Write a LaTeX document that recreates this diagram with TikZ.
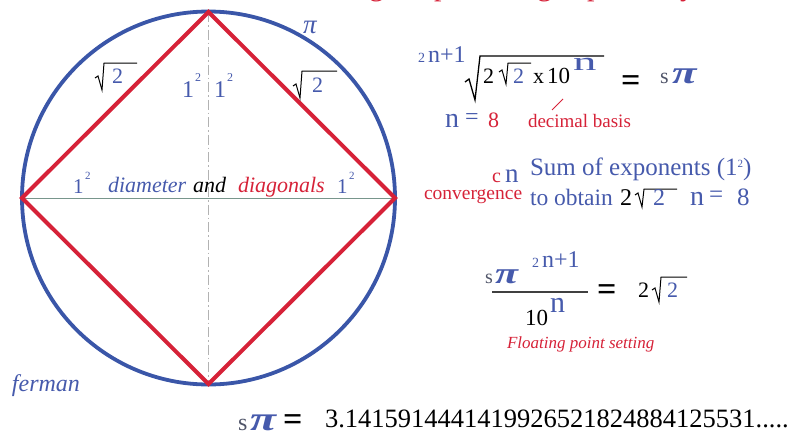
\documentclass[tikz,border=0pt]{standalone}
\usepackage{fontspec}
\setmainfont{Liberation Serif}
\usepackage{graphicx}
\definecolor{cblue}{RGB}{58,86,168}
\definecolor{tblue}{RGB}{70,90,172}
\definecolor{cred}{RGB}{214,34,56}
\definecolor{sgray}{RGB}{80,85,105}
\definecolor{dline}{RGB}{120,150,140}
\newcommand{\myfs}[1]{\fontsize{#1}{#1}\selectfont}
\newcommand{\myrad}[4]{\draw[rad] (#1,#2-12) -- (#1+3,#2-14) -- (#1+7,#2) -- (#1+9,#3) -- (#4,#3);}
\tikzset{
  txt/.style={inner sep=0pt, outer sep=0pt, anchor=base west},
  rad/.style={line width=1pt, draw=black, line join=miter},
  circ/.style={draw=cblue, line width=3.8pt},
  sq/.style={draw=cred, line width=4pt, line join=miter},
  diam/.style={draw=dline, line width=0.9pt},
  axis/.style={draw=black!30, line width=0.8pt, dash pattern=on 10pt off 3pt on 1.5pt off 3pt},
  blu/.style={txt, text=tblue},
  rd/.style={txt, text=cred},
  blk/.style={txt, text=black},
}
\begin{document}
\begin{tikzpicture}[x=1pt,y=-1pt]
\useasboundingbox (0,0) rectangle (794,434);
\clip (0,0) rectangle (794,434);
% cut-off title fragments
\node[rd,font=\myfs{30}] (tg1) at (369,-5) {g};
\node[rd,font=\myfs{30}] (tp1) at (434,-5) {p};
\node[rd,font=\myfs{30}] (tg2) at (537,-5) {g};
\node[rd,font=\myfs{30}] (tp2) at (587,-5) {p};
\node[rd,font=\myfs{30}] (ty1) at (680,-5) {y};
% geometry
\coordinate (O) at (208.5,198);
\coordinate (T) at (208.5,12);
\coordinate (B) at (208.5,384);
\coordinate (L) at (22,198);
\coordinate (R) at (395,198);
\draw[axis] (T) -- (B);
\draw[diam] (L) -- (R);
\draw[circ] (O) circle[radius=186.5pt];
\draw[sq] (T) -- (R) -- (B) -- (L) -- cycle;
% circle labels
\node[blu,font=\itshape\myfs{27}] (picirc) at (303,33) {π};
\myrad{95}{90}{63}{137}
\node[blu,font=\myfs{22}] (sqL) at (112,83) {2};
\myrad{293}{98}{71}{337}
\node[blu,font=\myfs{22}] (sqR) at (312,92) {2};
\node[blu,font=\myfs{24}] (oneA) at (182,97) {1};
\node[blu,font=\myfs{12}] (supA) at (195,81) {2};
\node[blu,font=\myfs{24}] (oneB) at (214,97) {1};
\node[blu,font=\myfs{12}] (supB) at (227,81) {2};
\node[blu,font=\myfs{21}] (oneC) at (73,193) {1};
\node[blu,font=\myfs{11}] (supC) at (85,179) {2};
\node[blu,font=\itshape\myfs{22}] (diamt) at (108,192) {diameter};
\node[blk,font=\itshape\myfs{22}] (andt) at (193,192) {and};
\node[rd,font=\itshape\myfs{22}] (diagt) at (238,192) {diagonals};
\node[blu,font=\myfs{21}] (oneD) at (337,193) {1};
\node[blu,font=\myfs{11}] (supD) at (349,179) {2};
\node[blu,font=\itshape\myfs{24}] (ferman) at (12,391) {ferman};
% formula 1
\node[blu,font=\myfs{14}] (f1a) at (418,62) {2};
\node[blu,font=\myfs{24}] (f1b) at (428,62) {n+1};
\draw[rad,line width=1.3pt] (465,82) -- (469,79) -- (475,100) -- (480,56) -- (604,56);
\node[blk,font=\myfs{22}] (f1c) at (483,83) {2};
\myrad{499}{84}{63}{531}
\node[blu,font=\myfs{22}] (f1d) at (513,83) {2};
\node[blk,font=\myfs{22}] (f1e) at (533,83) {x};
\node[blk,font=\myfs{23}] (f1f) at (547,83) {10};
\node[blu,font=\myfs{26}] (f1g) at (573,70) {\scalebox{1.8}[1]{n}};
\node[blk,font=\bfseries\myfs{34}] (f1eq) at (621,91.5) {=};
\node[txt,text=sgray,font=\myfs{22}] (f1s) at (660,83) {s};
\node[blu,font=\bfseries\itshape\myfs{32}] (f1pi) at (672,83) {\scalebox{1.4}[1]{π}};
\node[blu,font=\myfs{28}] (n8n) at (445,127) {n};
\node[blu,font=\myfs{24}] (n8eq) at (465,124.5) {=};
\node[rd,font=\myfs{22}] (n8v) at (488,127) {8};
\coordinate (ptA) at (563,99);
\coordinate (ptB) at (552,110);
\draw[cred,line width=0.8pt] (ptA) -- (ptB);
\node[rd,font=\myfs{19}] (decb) at (528,127) {decimal basis};
% sum of exponents
\node[rd,font=\myfs{20}] (cc) at (492,182) {c};
\node[blu,font=\myfs{27}] (cn) at (505,182) {n};
\node[rd,font=\myfs{19.5}] (conv) at (424,199) {convergence};
\node[blu,font=\myfs{25}] (sumx) at (530,175) {Sum of exponents (1\raisebox{8pt}{\myfs{11}2})};
\node[blu,font=\myfs{23.5}] (tobt) at (530,205) {to obtain};
\node[blk,font=\myfs{24}] (tob2) at (620,205) {2};
\myrad{635}{207}{189}{677}
\node[blu,font=\myfs{24}] (tob3) at (653,205) {2};
\node[blu,font=\myfs{28}] (tobn) at (690,205) {n};
\node[blu,font=\myfs{25}] (tobeq) at (709,202) {=};
\node[blu,font=\myfs{25}] (tob8) at (737,205) {8};
% fraction
\node[txt,text=sgray,font=\myfs{20}] (frs) at (485,283) {s};
\node[blu,font=\bfseries\itshape\myfs{30}] (frpi) at (495,283) {\scalebox{1.4}[1]{π}};
\node[blu,font=\myfs{14}] (frx2) at (532,267) {2};
\node[blu,font=\myfs{24}] (frxn) at (542,267) {n+1};
\coordinate (barL) at (492,292);
\coordinate (barR) at (588,292);
\draw[black!75,line width=1.6pt] (barL) -- (barR);
\node[blk,font=\myfs{23}] (fr10) at (525,325) {10};
\node[blu,font=\myfs{30}] (frn) at (550,312) {n};
\node[blk,font=\bfseries\myfs{34}] (freq) at (597,300) {=};
\node[blk,font=\myfs{22}] (fr2) at (638,297) {2};
\myrad{652}{302}{277}{687}
\node[blu,font=\myfs{22}] (fr2b) at (667,297) {2};
\node[rd,font=\itshape\myfs{17}] (float) at (507,348) {Floating point setting};
% bottom
\node[txt,text=sgray,font=\myfs{24}] (bs) at (238,430) {s};
\node[blu,font=\bfseries\itshape\myfs{34}] (bpi) at (250,430) {\scalebox{1.4}[1]{π}};
\node[blk,font=\bfseries\myfs{34}] (beq) at (283,430) {=};
\node[blk,font=\myfs{26.5}] (bnum) at (325,427) {3.1415914441419926521824884125531.....};
\end{tikzpicture}
\end{document}
